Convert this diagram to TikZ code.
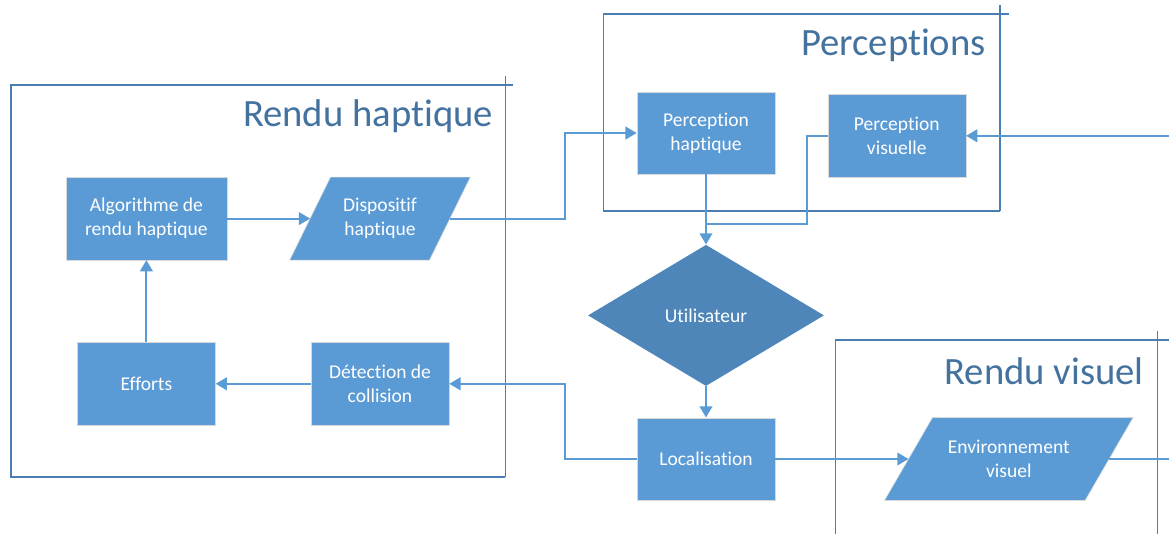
\documentclass[tikz,border=0pt]{standalone}
\usepackage{fontspec}
\setmainfont{Carlito}[Ligatures=CommonOff]
\usepackage{tikz}
\usetikzlibrary{shapes.geometric,arrows.meta,backgrounds}

\definecolor{boxblue}{HTML}{5B9BD5}
\definecolor{userblue}{HTML}{4E86B9}
\definecolor{frameblue}{HTML}{4A7DB1}
\definecolor{titleblue}{HTML}{44729F}

\begin{document}
\begin{tikzpicture}[
		every node/.style={align=center, text=white, font=\fontsize{13.9}{17}\selectfont},
		block/.style={rectangle, fill=boxblue, draw=black!15, minimum width=3.45cm, minimum height=2.06cm},
		device/.style={rectangle, minimum height=2.06cm},
		devicefill/.style={fill=boxblue, draw=black!15},
		title/.style={anchor=east, inner sep=0pt, text=titleblue, font=\fontsize{27.5}{32}\selectfont},
		conn/.style={draw=boxblue, line width=1.4pt, -{Triangle[width=9pt,length=8pt]}},
		link/.style={draw=boxblue, line width=1.4pt},
		frameline/.style={draw=frameblue, line width=1pt}
	]
  \useasboundingbox (0cm, 0cm) rectangle (29.225cm, 13.325cm);
  % frames
  \draw[frameline] (12.63cm, 1.40cm) -- (0.27cm, 1.40cm) -- (0.27cm, 11.20cm) -- (12.83cm, 11.20cm);
  \draw[frameline] (12.63cm, 1.40cm) -- (12.63cm, 11.43cm);
  \draw[frameline] (25.00cm, 8.05cm) -- (15.08cm, 8.05cm) -- (15.08cm, 12.98cm) -- (25.23cm, 12.98cm);
  \draw[frameline] (25.00cm, 8.05cm) -- (25.00cm, 13.20cm);
  \draw[frameline] (20.88cm, -0.1cm) -- (20.88cm, 4.83cm) -- (29.3cm, 4.83cm);
  \draw[frameline] (28.93cm, -0.1cm) -- (28.93cm, 5.05cm);
  \node (t_haptic) [title] at (12.33cm, 10.42cm) {Rendu haptique};
  \node (t_percep) [title] at (24.65cm, 12.20cm) {Perceptions};
  \node (t_visual) [title] at (28.60cm, 4.05cm) {Rendu visuel};
  % blocks
  \node (algo) [block, minimum width=4.03cm] at (3.66cm, 7.86cm) {Algorithme de\\rendu haptique};
  \node (disp) [device, minimum width=3.48cm] at (9.50cm, 7.86cm) {Dispositif\\haptique};
  \node (efforts) [block] at (3.66cm, 3.73cm) {Efforts};
  \node (detect) [block] at (9.50cm, 3.73cm) {Détection de\\collision};
  \node (p_haptic) [block] at (17.65cm, 10.00cm) {Perception\\haptique};
  \node (p_visual) [block] at (22.42cm, 9.93cm) {Perception\\visuelle};
  \node (user) [diamond, fill=userblue, minimum width=5.9cm, minimum height=3.53cm, inner sep=0pt] at (17.65cm, 5.44cm) {Utilisateur};
  \node (loc) [block] at (17.65cm, 1.85cm) {Localisation};
  \node (env) [device, minimum width=5.0cm] at (25.22cm, 1.85cm) {Environnement\\visuel};
  % parallelograms behind the device texts
  \begin{pgfonlayer}{background}
    \filldraw[devicefill] ([xshift=-0.51cm]disp.south west) -- ([xshift=0.51cm]disp.north west)
      -- ([xshift=0.51cm]disp.north east) -- ([xshift=-0.51cm]disp.south east) -- cycle;
    \filldraw[devicefill] ([xshift=-0.6cm]env.south west) -- ([xshift=0.6cm]env.north west)
      -- ([xshift=0.6cm]env.north east) -- ([xshift=-0.6cm]env.south east) -- cycle;
  \end{pgfonlayer}
  % bends and free ends
  \coordinate (bend_out) at (14.12cm, 9cm);
  \coordinate (bend_loc) at (14.12cm, 3cm);
  \coordinate (bend_vis) at (20.18cm, 7.73cm);
  \coordinate (vis_in) at (29.3cm, 9.93cm);
  \coordinate (env_out) at (29.3cm, 1.85cm);
  % connectors
  \draw[conn] (algo) -- (disp);
  \draw[conn] (disp.east) -| (bend_out) |- (p_haptic.west);
  \draw[conn] (vis_in) -- (p_visual.east);
  \draw[link] (p_visual.west) -| (bend_vis) -- (bend_vis -| p_haptic.south);
  \draw[conn] (p_haptic.south) -- (user.north);
  \draw[conn] (user.south) -- (loc.north);
  \draw[conn] (loc.west) -| (bend_loc) |- (detect.east);
  \draw[conn] (detect) -- (efforts);
  \draw[conn] (efforts) -- (algo);
  \draw[conn] (loc.east) -- (env.west);
  \draw[link] (env.east) -- (env_out);
\end{tikzpicture}
\end{document}
